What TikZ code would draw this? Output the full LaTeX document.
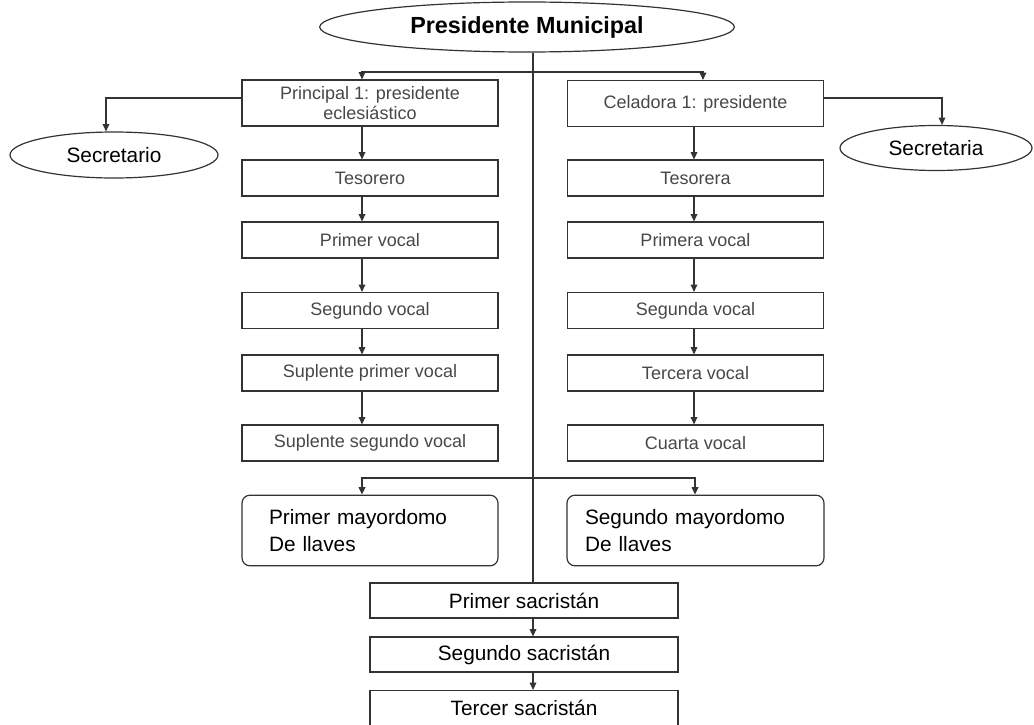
\documentclass[tikz,border=0pt]{standalone}
\usepackage{fontspec}
\setmainfont{Liberation Sans}
\usetikzlibrary{arrows.meta,shapes.geometric}
\begin{document}
\begin{tikzpicture}[x=0.75pt,y=-0.75pt,
  line/.style={draw=black!80, line width=0.9pt},
  arr/.style={line, -{Triangle[width=5pt,length=5.5pt]}},
  colbox/.style={draw=black!80, line width=0.9pt, rectangle, minimum width=192pt,
    minimum height=27pt, inner sep=0pt, align=center,
    font=\fontsize{13.5}{15}\selectfont, text=black!72},
  ovalbox/.style={draw=black!80, line width=0.9pt, ellipse, inner sep=0pt,
    font=\fontsize{15.6}{18}\selectfont},
  majbox/.style={draw=black!80, line width=0.9pt, rectangle, rounded corners=6pt,
    minimum width=192pt, minimum height=53pt, align=left,
    font=\fontsize{15.6}{20}\selectfont},
  sacbox/.style={draw=black!80, line width=0.9pt, rectangle, minimum width=231pt,
    minimum height=26.25pt, inner sep=0pt, font=\fontsize{15.6}{18}\selectfont}
]
\useasboundingbox (0,0) rectangle (1034,724);

% top
\node[ovalbox, minimum width=311pt, minimum height=37.5pt,
  font=\fontsize{17.5}{20}\selectfont\bfseries] (pres) at (527,27) {Presidente Municipal};

% helper coordinates
\coordinate (tx) at (533,0);
\coordinate (lx) at (362,0);
\coordinate (rx) at (694,0);
\coordinate (rtx) at (703,0);
\coordinate (rbx) at (695,0);
\coordinate (yb1) at (0,72);
\coordinate (yb2) at (0,478);
\coordinate (ys) at (0,98);
\coordinate (secx) at (106,0);
\coordinate (srax) at (942,0);

% left column
\node[colbox, minimum height=34.5pt] (p1) at (370,103) {Principal 1: presidente\\eclesiástico};
\node[colbox] (l1) at (370,178) {Tesorero};
\node[colbox] (l2) at (370,240) {Primer vocal};
\node[colbox] (l3) at (370,310.5) {Segundo vocal};
\node[colbox] (l4) at (370,373) {Suplente primer vocal};
\node[colbox] (l5) at (370,443) {Suplente segundo vocal};

% right column
\node[colbox, minimum height=34.5pt] (c1) at (695.5,103.5) {Celadora 1: presidente};
\node[colbox] (r1) at (695.5,178) {Tesorera};
\node[colbox] (r2) at (695.5,240) {Primera vocal};
\node[colbox] (r3) at (695.5,310.5) {Segunda vocal};
\node[colbox] (r4) at (695.5,373) {Tercera vocal};
\node[colbox] (r5) at (695.5,443) {Cuarta vocal};

% secretaries
\node[ovalbox, minimum width=156pt, minimum height=34.5pt] (sec) at (114,155) {Secretario};
\node[ovalbox, minimum width=144pt, minimum height=33.75pt] (sra) at (936,148) {Secretaria};

% mayordomos
\node[majbox, inner xsep=20.25pt, text width=151.5pt] (m1) at (370,530.5) {Primer mayordomo\\De llaves};
\node[majbox, inner xsep=13.5pt, text width=165.75pt] (m2) at (695.5,530.5) {Segundo mayordomo\\De llaves};

% sacristanes
\node[sacbox] (s1) at (524,600.5) {Primer sacristán};
\node[sacbox] (s2) at (524,654.5) {Segundo sacristán};
\node[sacbox] (s3) at (524,708) {Tercer sacristán};

% trunk
\draw[line] (pres.south -| tx) -- (s1.north -| tx);

% top bar
\draw[arr] (tx |- yb1) -| (p1.north -| lx);
\draw[arr] (tx |- yb1) -| (c1.north -| rtx);

% secretaries
\draw[arr] (p1.west |- ys) -| (sec.north -| secx);
\draw[arr] (c1.east |- ys) -| (sra.north -| srax);

% left chain
\draw[arr] (p1.south -| lx) -- (l1.north -| lx);
\draw[arr] (l1.south -| lx) -- (l2.north -| lx);
\draw[arr] (l2.south -| lx) -- (l3.north -| lx);
\draw[arr] (l3.south -| lx) -- (l4.north -| lx);
\draw[arr] (l4.south -| lx) -- (l5.north -| lx);

% right chain
\draw[arr] (c1.south -| rx) -- (r1.north -| rx);
\draw[arr] (r1.south -| rx) -- (r2.north -| rx);
\draw[arr] (r2.south -| rx) -- (r3.north -| rx);
\draw[arr] (r3.south -| rx) -- (r4.north -| rx);
\draw[arr] (r4.south -| rx) -- (r5.north -| rx);

% lower bar
\draw[arr] (tx |- yb2) -| (m1.north -| lx);
\draw[arr] (tx |- yb2) -| (m2.north -| rbx);

% sacristan chain
\draw[arr] (s1.south -| tx) -- (s2.north -| tx);
\draw[arr] (s2.south -| tx) -- (s3.north -| tx);
\end{tikzpicture}
\end{document}
